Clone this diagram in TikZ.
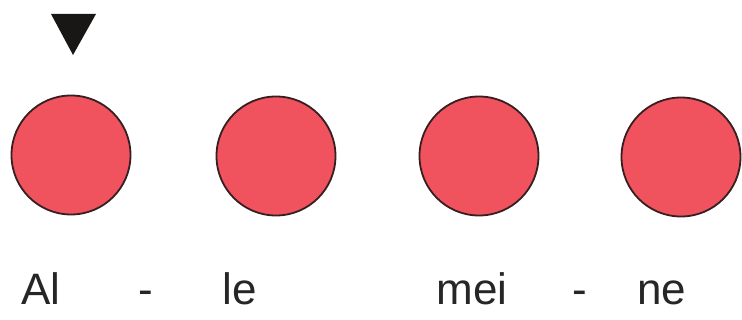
\documentclass[tikz,border=0pt]{standalone}
\usepackage{fontspec}
\setmainfont{Liberation Sans}
\definecolor{dotred}{RGB}{240,82,94}
\definecolor{dotline}{RGB}{55,30,32}
\definecolor{markblack}{RGB}{25,22,22}
\begin{document}
\begin{tikzpicture}[x=1pt,y=-1pt,
  dot/.style={circle,draw=dotline,line width=1.8pt,fill=dotred,minimum size=119pt,inner sep=0pt},
  syl/.style={anchor=base,inner sep=0pt,font=\fontsize{44}{50}\selectfont,text=black!85}]
\useasboundingbox (0,0) rectangle (742,320);
\node[dot] (d1) at (71,155) {};
\node[dot] (d2) at (276,156) {};
\node[dot] (d3) at (479,156) {};
\node[dot] (d4) at (681,157) {};
\fill[markblack] (51,14) -- (96,14) -- (73,55) -- cycle;
\node[syl] (s1) at (41,305) {Al};
\node[syl] (h1) at (146,305) {-};
\node[syl] (s2) at (240,305) {le};
\node[syl] (s3) at (472,305) {mei};
\node[syl] (h2) at (580,305) {-};
\node[syl] (s4) at (662,305) {ne};
\end{tikzpicture}
\end{document}
